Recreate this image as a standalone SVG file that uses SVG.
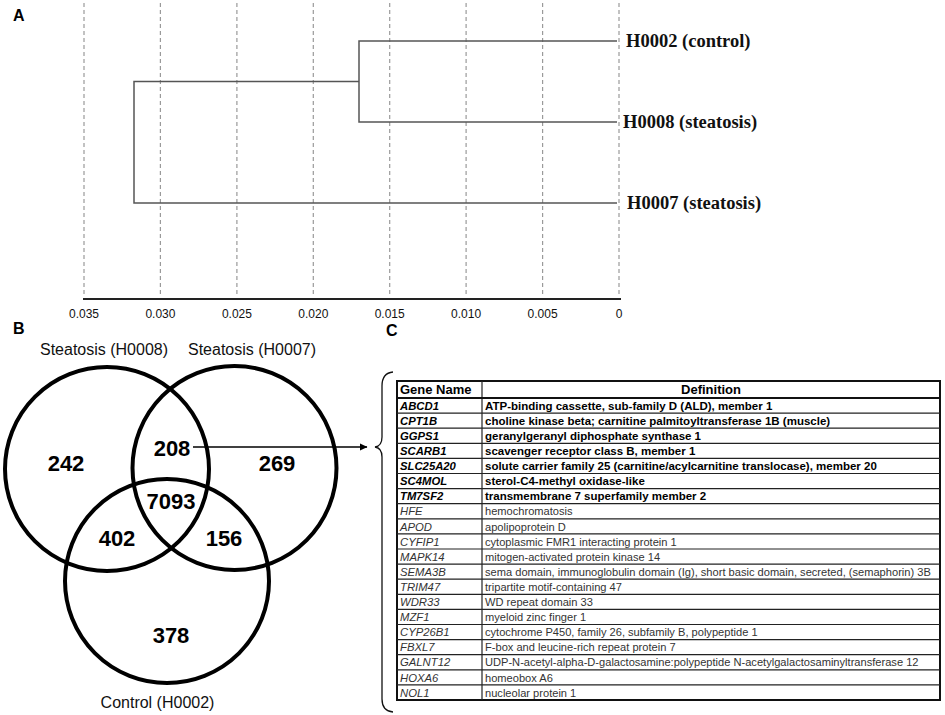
<svg xmlns="http://www.w3.org/2000/svg" width="945" height="715" viewBox="0 0 945 715">
<style>
.panel{font-family:"Liberation Sans",Arial,sans-serif;font-weight:bold;font-size:16px;fill:#000}
.grid{stroke:#9a9a9a;stroke-width:1.2;stroke-dasharray:4,3;fill:none}
.dend{stroke:#555;stroke-width:1.5;fill:none}
.tick{font-family:"Liberation Sans",Arial,sans-serif;font-size:12px;text-anchor:middle;fill:#111}
.leaf{font-family:"Liberation Serif","Times New Roman",serif;font-weight:bold;font-size:18.5px;fill:#111}
.venn{stroke:#000;stroke-width:4;fill:none}
.num{font-family:"Liberation Sans",Arial,sans-serif;font-weight:bold;font-size:22px;text-anchor:middle;fill:#000}
.set{font-family:"Liberation Sans",Arial,sans-serif;font-size:16px;text-anchor:middle;fill:#111}
.hdr{font-family:"Liberation Sans",Arial,sans-serif;font-weight:bold;font-size:13px;fill:#000}
.gb{font-family:"Liberation Sans",Arial,sans-serif;font-weight:bold;font-style:italic;font-size:11.3px;fill:#000}
.db{font-family:"Liberation Sans",Arial,sans-serif;font-weight:bold;font-size:11.5px;fill:#000}
.gr{font-family:"Liberation Sans",Arial,sans-serif;font-style:italic;font-size:11.3px;fill:#333}
.dr{font-family:"Liberation Sans",Arial,sans-serif;font-size:11.1px;fill:#333}
.rl{stroke:#222;stroke-width:1.2}
</style>
<defs>
<marker id="ah" markerWidth="8" markerHeight="8" refX="7" refY="4" orient="auto" markerUnits="userSpaceOnUse">
<path d="M0,0.5 L7.5,4 L0,7.5 Z" fill="#000"/>
</marker>
</defs>
<rect width="945" height="715" fill="#fff"/>

<g id="panelA">
<text class="panel" x="13" y="21">A</text>
<g id="gridlines">
<line class="grid" x1="84" y1="3" x2="84" y2="297"/>
<line class="grid" x1="160.4" y1="3" x2="160.4" y2="297"/>
<line class="grid" x1="236.9" y1="3" x2="236.9" y2="297"/>
<line class="grid" x1="313.3" y1="3" x2="313.3" y2="297"/>
<line class="grid" x1="389.7" y1="3" x2="389.7" y2="297"/>
<line class="grid" x1="466.1" y1="3" x2="466.1" y2="297"/>
<line class="grid" x1="542.6" y1="3" x2="542.6" y2="297"/>
<line class="grid" x1="619" y1="3" x2="619" y2="297"/>
</g>
<line x1="83" y1="299" x2="621" y2="299" stroke="#222" stroke-width="2"/>
<g id="ticks">
<text class="tick" x="84" y="318">0.035</text>
<text class="tick" x="160.4" y="318">0.030</text>
<text class="tick" x="236.9" y="318">0.025</text>
<text class="tick" x="313.3" y="318">0.020</text>
<text class="tick" x="389.7" y="318">0.015</text>
<text class="tick" x="466.1" y="318">0.010</text>
<text class="tick" x="542.6" y="318">0.005</text>
<text class="tick" x="619" y="318">0</text>
</g>
<g id="dendrogram">
<path class="dend" d="M617 41 H359 V122 H617 M359 81.5 H134 V203 H617"/>
</g>
<g id="leaf-H0002"><text class="leaf" x="626" y="47">H0002 (control)</text></g>
<g id="leaf-H0008"><text class="leaf" x="623" y="128">H0008 (steatosis)</text></g>
<g id="leaf-H0007"><text class="leaf" x="627" y="209">H0007 (steatosis)</text></g>
</g>

<g id="panelB">
<text class="panel" x="13" y="334">B</text>
<g id="set-H0008">
<circle class="venn" cx="107" cy="469" r="102"/>
<text class="set" x="104" y="355">Steatosis (H0008)</text>
</g>
<g id="set-H0007">
<circle class="venn" cx="234.5" cy="468" r="102"/>
<text class="set" x="252" y="355">Steatosis (H0007)</text>
</g>
<g id="set-H0002">
<circle class="venn" cx="167" cy="581" r="102"/>
<text class="set" x="157.5" y="708">Control (H0002)</text>
</g>
<g id="counts">
<text class="num" x="66" y="471">242</text>
<text class="num" x="172" y="456">208</text>
<text class="num" x="277" y="471">269</text>
<text class="num" x="171" y="509">7093</text>
<text class="num" x="117" y="546">402</text>
<text class="num" x="224" y="546">156</text>
<text class="num" x="171" y="643">378</text>
</g>
</g>

<g id="connectors">
<line x1="193" y1="447" x2="367" y2="447" stroke="#000" stroke-width="1.5" marker-end="url(#ah)"/>
<path d="M393 372 Q382 373 382 386 V437 Q382 446 375 447 Q382 448 382 457 V699 Q382 711 393 712" fill="none" stroke="#111" stroke-width="1.3"/>
</g>

<g id="panelC">
<text class="panel" x="386" y="336">C</text>
<g id="table">
<rect x="397" y="381" width="543" height="319" fill="none" stroke="#111" stroke-width="2"/>
<line class="rl" x1="482" y1="381" x2="482" y2="700"/>
<line x1="397" y1="398" x2="940" y2="398" stroke="#111" stroke-width="1.8"/>
<g id="rowlines">
<line class="rl" x1="397" y1="413.1" x2="940" y2="413.1"/>
<line class="rl" x1="397" y1="428.2" x2="940" y2="428.2"/>
<line class="rl" x1="397" y1="443.3" x2="940" y2="443.3"/>
<line class="rl" x1="397" y1="458.4" x2="940" y2="458.4"/>
<line class="rl" x1="397" y1="473.5" x2="940" y2="473.5"/>
<line class="rl" x1="397" y1="488.6" x2="940" y2="488.6"/>
<line class="rl" x1="397" y1="503.7" x2="940" y2="503.7"/>
<line class="rl" x1="397" y1="518.8" x2="940" y2="518.8"/>
<line class="rl" x1="397" y1="533.9" x2="940" y2="533.9"/>
<line class="rl" x1="397" y1="549" x2="940" y2="549"/>
<line class="rl" x1="397" y1="564.1" x2="940" y2="564.1"/>
<line class="rl" x1="397" y1="579.2" x2="940" y2="579.2"/>
<line class="rl" x1="397" y1="594.3" x2="940" y2="594.3"/>
<line class="rl" x1="397" y1="609.4" x2="940" y2="609.4"/>
<line class="rl" x1="397" y1="624.5" x2="940" y2="624.5"/>
<line class="rl" x1="397" y1="639.6" x2="940" y2="639.6"/>
<line class="rl" x1="397" y1="654.7" x2="940" y2="654.7"/>
<line class="rl" x1="397" y1="669.8" x2="940" y2="669.8"/>
<line class="rl" x1="397" y1="684.9" x2="940" y2="684.9"/>
</g>
<text class="hdr" x="400" y="394">Gene Name</text>
<text class="hdr" x="711" y="394" text-anchor="middle">Definition</text>
<g id="rows">
<text class="gb" x="400" y="409.7">ABCD1</text><text class="db" x="485" y="409.7">ATP-binding cassette, sub-family D (ALD), member 1</text>
<text class="gb" x="400" y="424.8">CPT1B</text><text class="db" x="485" y="424.8">choline kinase beta; carnitine palmitoyltransferase 1B (muscle)</text>
<text class="gb" x="400" y="439.9">GGPS1</text><text class="db" x="485" y="439.9">geranylgeranyl diphosphate synthase 1</text>
<text class="gb" x="400" y="455">SCARB1</text><text class="db" x="485" y="455">scavenger receptor class B, member 1</text>
<text class="gb" x="400" y="470.1">SLC25A20</text><text class="db" x="485" y="470.1">solute carrier family 25 (carnitine/acylcarnitine translocase), member 20</text>
<text class="gb" x="400" y="485.2">SC4MOL</text><text class="db" x="485" y="485.2">sterol-C4-methyl oxidase-like</text>
<text class="gb" x="400" y="500.3">TM7SF2</text><text class="db" x="485" y="500.3">transmembrane 7 superfamily member 2</text>
<text class="gr" x="400" y="515.4">HFE</text><text class="dr" x="485" y="515.4">hemochromatosis</text>
<text class="gr" x="400" y="530.5">APOD</text><text class="dr" x="485" y="530.5">apolipoprotein D</text>
<text class="gr" x="400" y="545.6">CYFIP1</text><text class="dr" x="485" y="545.6">cytoplasmic FMR1 interacting protein 1</text>
<text class="gr" x="400" y="560.7">MAPK14</text><text class="dr" x="485" y="560.7">mitogen-activated protein kinase 14</text>
<text class="gr" x="400" y="575.8">SEMA3B</text><text class="dr" x="485" y="575.8">sema domain, immunoglobulin domain (Ig), short basic domain, secreted, (semaphorin) 3B</text>
<text class="gr" x="400" y="590.9">TRIM47</text><text class="dr" x="485" y="590.9">tripartite motif-containing 47</text>
<text class="gr" x="400" y="606">WDR33</text><text class="dr" x="485" y="606">WD repeat domain 33</text>
<text class="gr" x="400" y="621.1">MZF1</text><text class="dr" x="485" y="621.1">myeloid zinc finger 1</text>
<text class="gr" x="400" y="636.2">CYP26B1</text><text class="dr" x="485" y="636.2">cytochrome P450, family 26, subfamily B, polypeptide 1</text>
<text class="gr" x="400" y="651.3">FBXL7</text><text class="dr" x="485" y="651.3">F-box and leucine-rich repeat protein 7</text>
<text class="gr" x="400" y="666.4">GALNT12</text><text class="dr" x="485" y="666.4">UDP-N-acetyl-alpha-D-galactosamine:polypeptide N-acetylgalactosaminyltransferase 12</text>
<text class="gr" x="400" y="681.5">HOXA6</text><text class="dr" x="485" y="681.5">homeobox A6</text>
<text class="gr" x="400" y="696.6">NOL1</text><text class="dr" x="485" y="696.6">nucleolar protein 1</text>
</g>
</g>
</g>
</svg>
